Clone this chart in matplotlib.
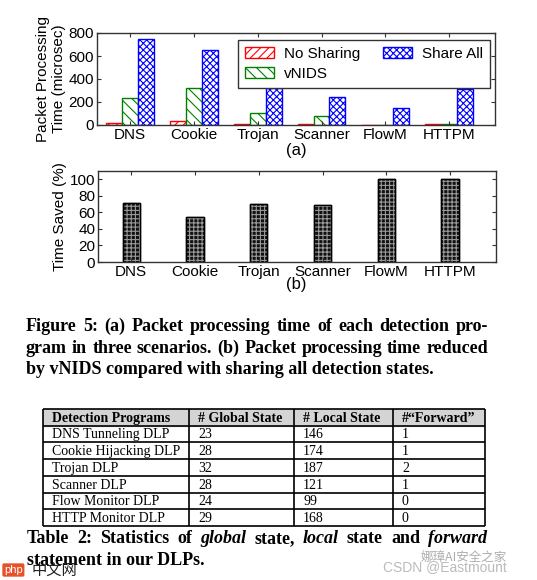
import matplotlib

matplotlib.use("Agg")
import matplotlib.pyplot as plt
import numpy as np

programs = ["DNS", "Cookie", "Trojan", "Scanner", "FlowM", "HTTPM"]
no_sharing = [15, 35, 8, 5, 3, 8]
vnids = [235, 320, 100, 75, 3, 5]
share_all = [745, 655, 320, 245, 150, 315]
time_saved = [71, 54, 70, 69, 100, 100]

table_header = ["Detection Programs", "# Global State", "# Local State", "#\u201cForward\u201d"]
table_names = ["DNS Tunneling DLP", "Cookie Hijacking DLP", "Trojan DLP",
               "Scanner DLP", "Flow Monitor DLP", "HTTP Monitor DLP"]
global_state = [23, 28, 32, 28, 24, 29]
local_state = [146, 174, 187, 121, 99, 168]
forward = [1, 1, 2, 1, 0, 0]

fig_caption = [
    [("Figure", "normal"), ("5:", "normal"), ("(a)", "normal"), ("Packet", "normal"),
     ("processing", "normal"), ("time", "normal"), ("of", "normal"), ("each", "normal"),
     ("detection", "normal"), ("pro-", "normal")],
    [("gram", "normal"), ("in", "normal"), ("three", "normal"), ("scenarios.", "normal"),
     ("(b)", "normal"), ("Packet", "normal"), ("processing", "normal"), ("time", "normal"),
     ("reduced", "normal")],
]
fig_caption_last = "by vNIDS compared with sharing all detection states."
table_caption = [("Table", "normal"), ("2:", "normal"), ("Statistics", "normal"), ("of", "normal"),
                 ("global", "italic"), ("state,", "normal"), ("local", "italic"), ("state", "normal"),
                 ("and", "normal"), ("forward", "italic")]
table_caption_last = "statement in our DLPs."

W, H = 537, 580
SANS = "Liberation Sans"
SERIF = "Liberation Serif"
plt.rcParams["hatch.linewidth"] = 0.8

fig = plt.figure(figsize=(W / 100, H / 100), dpi=100)


def px_axes(left, top, right, bottom):
    return fig.add_axes([left / W, 1 - bottom / H, (right - left) / W, (bottom - top) / H])


def style_axes(ax):
    for spine in ax.spines.values():
        spine.set_color("#333333")
        spine.set_linewidth(1.0)
    ax.tick_params(direction="in", top=True, right=True, length=3, width=0.8,
                   labelsize=11, pad=2, color="#333333")
    for lab in ax.get_xticklabels() + ax.get_yticklabels():
        lab.set_fontfamily(SANS)


x = np.arange(len(programs))
bw = 0.25

# (a) packet processing time
ax1 = px_axes(97, 33, 495, 125)
ax1.bar(x - bw, no_sharing, bw, facecolor="white", edgecolor="red", hatch="////", linewidth=1.0,
        label="No Sharing")
ax1.bar(x, vnids, bw, facecolor="white", edgecolor="green", hatch="\\\\\\", linewidth=1.0,
        label="vNIDS")
ax1.bar(x + bw, share_all, bw, facecolor="white", edgecolor="blue", hatch="xxxxx", linewidth=1.0,
        label="Share All")
ax1.set_xlim(-0.52, 5.72)
ax1.set_ylim(0, 800)
ax1.set_yticks([0, 200, 400, 600, 800])
ax1.set_xticks(x)
ax1.set_xticklabels(programs)
ax1.set_ylabel("Packet Processing\nTime (microsec)", fontsize=11, family=SANS, labelpad=2,
               linespacing=1.2)
style_axes(ax1)
h, l = ax1.get_legend_handles_labels()
leg = ax1.legend(h, l, ncol=2, loc="upper right", bbox_to_anchor=(0.988, 0.925),
                 borderaxespad=0, fancybox=False, edgecolor="#333333", framealpha=1,
                 prop={"family": SANS, "size": 11}, handlelength=1.9, handleheight=0.7,
                 handletextpad=0.65, columnspacing=1.5, borderpad=0.45, labelspacing=0.4)
leg.get_frame().set_linewidth(1.0)
fig.text(296 / W, 1 - 150 / H, "(a)", ha="center", va="center", fontsize=12, family=SANS)

# (b) time saved
ax2 = px_axes(98, 171, 496, 262)
ax2.bar(x, time_saved, 0.27, facecolor="#111111", edgecolor="black", linewidth=1.0)
ax2.bar(x, time_saved, 0.27, facecolor="none", edgecolor="#9a9a9a", hatch="++++", linewidth=0)
ax2.bar(x, time_saved, 0.27, facecolor="none", edgecolor="black", linewidth=1.0)
ax2.set_xlim(-0.52, 5.72)
ax2.set_ylim(0, 110)
ax2.set_yticks([0, 20, 40, 60, 80, 100])
ax2.set_xticks(x)
ax2.set_xticklabels(programs)
ax2.set_ylabel("Time Saved (%)", fontsize=11, family=SANS, labelpad=2)
style_axes(ax2)
fig.text(296 / W, 1 - 285 / H, "(b)", ha="center", va="center", fontsize=12, family=SANS)

renderer = fig.canvas.get_renderer()


def justify(parts, x0, x1, ybase, size):
    texts = []
    for word, style in parts:
        t = fig.text(0, 0, word, fontsize=size, family=SERIF, weight="bold", style=style,
                     va="baseline", ha="left")
        texts.append(t)
    widths = [t.get_window_extent(renderer).width for t in texts]
    gap = (x1 - x0 - sum(widths)) / (len(texts) - 1)
    pos = x0
    for t, wd in zip(texts, widths):
        t.set_position((pos / W, 1 - ybase / H))
        pos += wd + gap


# figure caption
justify(fig_caption[0], 26, 488, 331, 13)
justify(fig_caption[1], 26, 488, 353, 13)
fig.text(26 / W, 1 - 374 / H, fig_caption_last, fontsize=13, family=SERIF, weight="bold",
         va="baseline")

# table
axt = px_axes(43, 409, 485, 526)
axt.set_xlim(0, 442)
axt.set_ylim(7, 0)
axt.axis("off")
col_edges = [0, 146, 251, 350, 442]
axt.axhspan(0, 1, color="#d4d4d4", zorder=0)
for r in range(8):
    axt.plot([0, 442], [r, r], color="black", lw=1.2, clip_on=False, solid_capstyle="butt")
for c in col_edges:
    axt.plot([c, c], [0, 7], color="black", lw=1.2, clip_on=False, solid_capstyle="butt")
for j, head in enumerate(table_header):
    axt.text(col_edges[j] + 9, 0.55, head, fontsize=10, family=SERIF, weight="bold",
             va="center", ha="left")
for i in range(len(table_names)):
    row = [table_names[i], str(global_state[i]), str(local_state[i]), str(forward[i])]
    for j, cell in enumerate(row):
        axt.text(col_edges[j] + 9, i + 1.55, cell, fontsize=10, family=SERIF,
                 va="center", ha="left")

# table caption
justify(table_caption, 27, 487, 543, 13)
fig.text(27 / W, 1 - 565 / H, table_caption_last, fontsize=13, family=SERIF, weight="bold",
         va="baseline")

# watermarks
fig.text(4 / W, 1 - 573 / H, "php", fontsize=8, color="white", family=SANS, va="baseline",
         bbox=dict(boxstyle="round,pad=0.15", facecolor="#e8502a", edgecolor="none"))
fig.text(32 / W, 1 - 575 / H, "\u4e2d\u6587\u7f51", fontsize=11, color="#222222",
         family="Noto Sans CJK SC", style="italic", va="baseline")
fig.text(507 / W, 1 - 561 / H, "\u5a1c\u748bAI\u5b89\u5168\u4e4b\u5bb6", fontsize=9,
         color="#999999", alpha=0.8, family="Noto Sans CJK SC", ha="right", va="baseline")
fig.text(507 / W, 1 - 571 / H, "CSDN @Eastmount", fontsize=10, color="#aaaaaa", alpha=0.8,
         family=SANS, ha="right", va="baseline")

fig.savefig("out.png", dpi=100)
